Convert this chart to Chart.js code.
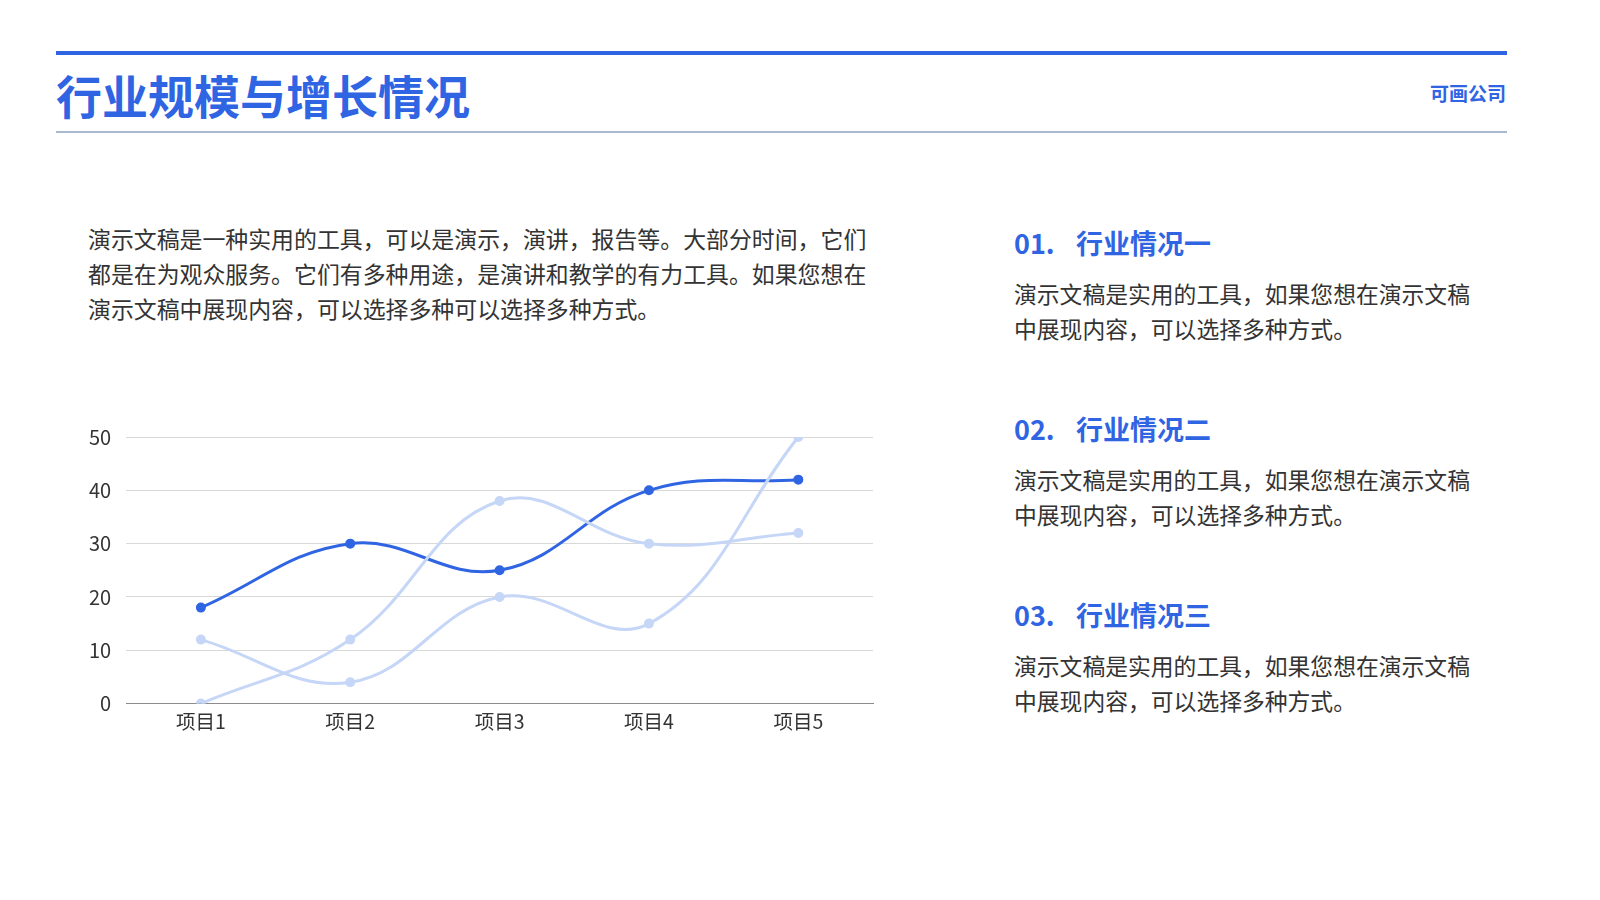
<!DOCTYPE html>
<html>
<head>
<meta charset="utf-8">
<script src="https://cdn.jsdelivr.net/npm/chart.js@4/dist/chart.umd.min.js"></script>
<style>
  body { margin: 0; width: 1600px; height: 900px; background: #fff; position: relative; overflow: hidden;
         font-family: "Noto Sans CJK SC", "Noto Sans", sans-serif; color: #333; }
  .topbar { position: absolute; left: 56px; top: 51px; width: 1451px; height: 4px; background: #2f64e2; }
  .subline { position: absolute; left: 56px; top: 131px; width: 1451px; height: 2px; background: #a8b8d0; }
  h1 { position: absolute; left: 56px; top: 61px; margin: 0; font-size: 46px; line-height: 66px; font-weight: 700; color: #2f64e2; }
  .company { position: absolute; right: 94px; top: 80px; font-size: 19px; line-height: 26px; font-weight: 700; color: #2f64e2; }
  .intro { position: absolute; left: 88px; top: 221px; margin: 0; font-size: 22.9px; line-height: 35px; }
  .item { position: absolute; left: 1014px; }
  .item h2 { margin: 0; font-size: 27px; line-height: 38px; font-weight: 700; color: #2f64e2; }
  .item h2 span { display: inline-block; width: 62px; }
  .item p { margin: 14px 0 0 0; font-size: 22.8px; line-height: 35px; }
  #wrap { position: absolute; left: 74px; top: 410px; width: 806px; height: 329px; }
</style>
</head>
<body>
<div class="topbar"></div>
<h1>行业规模与增长情况</h1>
<div class="company">可画公司</div>
<div class="subline"></div>

<p class="intro">演示文稿是一种实用的工具，可以是演示，演讲，报告等。大部分时间，它们<br>都是在为观众服务。它们有多种用途，是演讲和教学的有力工具。如果您想在<br>演示文稿中展现内容，可以选择多种可以选择多种方式。</p>

<div class="item" style="top:224px"><h2><span>01.</span>行业情况一</h2><p>演示文稿是实用的工具，如果您想在演示文稿<br>中展现内容，可以选择多种方式。</p></div>
<div class="item" style="top:410px"><h2><span>02.</span>行业情况二</h2><p>演示文稿是实用的工具，如果您想在演示文稿<br>中展现内容，可以选择多种方式。</p></div>
<div class="item" style="top:596px"><h2><span>03.</span>行业情况三</h2><p>演示文稿是实用的工具，如果您想在演示文稿<br>中展现内容，可以选择多种方式。</p></div>

<div id="wrap"><canvas id="chart"></canvas></div>

<script>
const categories = ["项目1", "项目2", "项目3", "项目4", "项目5"];
const seriesMain = [18, 30, 25, 40, 42];
const seriesLightA = [12, 4, 20, 15, 50];
const seriesLightB = [0, 12, 38, 30, 32];

const dark = "#2f64e2";
const light = "#c6d6f7";

function lineSet(data, color) {
  return {
    data: data,
    borderColor: color,
    backgroundColor: color,
    pointBackgroundColor: color,
    pointBorderColor: color,
    borderWidth: 3,
    pointRadius: 3.5,
    tension: 0.4,
    fill: false
  };
}

new Chart(document.getElementById("chart"), {
  type: "line",
  data: {
    labels: categories,
    datasets: [
      lineSet(seriesLightA, light),
      lineSet(seriesLightB, light),
      lineSet(seriesMain, dark)
    ]
  },
  options: {
    responsive: true,
    maintainAspectRatio: false,
    animation: false,
    layout: { padding: { top: 6, right: 6, bottom: 0, left: 0 } },
    plugins: { legend: { display: false }, tooltip: { enabled: false } },
    scales: {
      x: {
        offset: true,
        grid: { display: false, drawTicks: false },
        border: { color: "#8c8c8c", width: 1 },
        ticks: { color: "#333", padding: 6, font: { family: "Noto Sans CJK SC", size: 19.5 } }
      },
      y: {
        min: 0,
        max: 50,
        ticks: { stepSize: 10, color: "#333", padding: 15, font: { family: "Noto Sans CJK SC", size: 20 } },
        grid: { color: "#d9d9d9", drawTicks: false },
        border: { display: false }
      }
    }
  }
});
</script>
</body>
</html>
